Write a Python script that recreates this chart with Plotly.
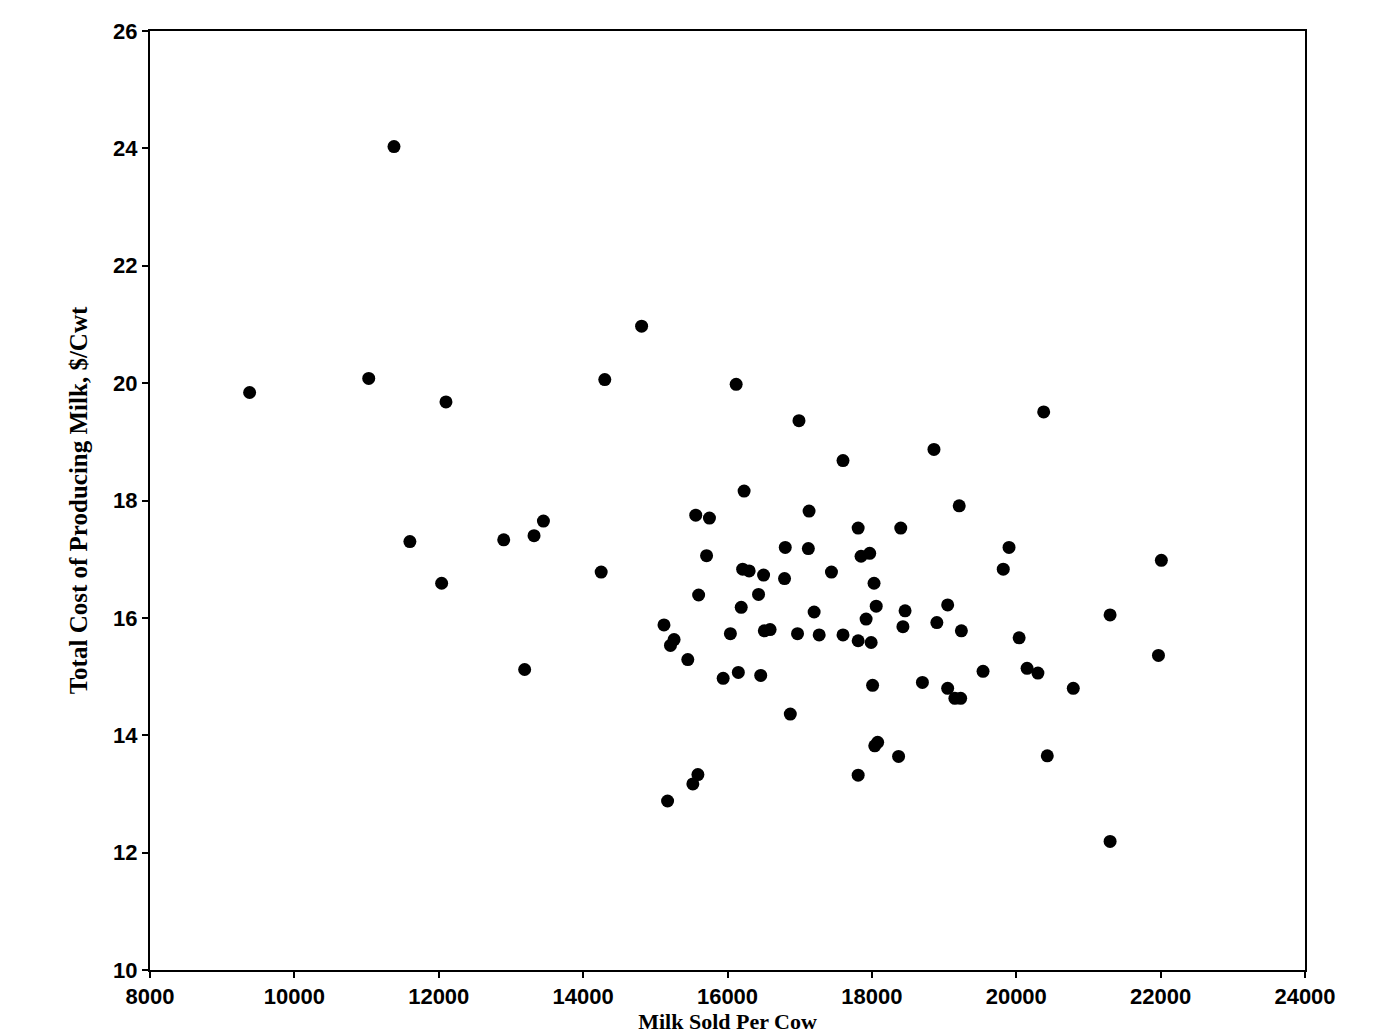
import plotly.graph_objects as go

milk_sold = [9380, 11380, 11030, 12100, 11600, 12040, 12900, 13320, 13450, 13190,
             14810, 14300, 14250, 16120, 16990, 17600, 18860, 20380, 19210, 16230,
             15560, 15750, 17130, 17810, 18400, 15710, 16800, 17120, 17850, 17970,
             19900, 22010, 19820, 16210, 16300, 16500, 16790, 17440, 18030, 15600,
             16430, 16190, 17200, 18060, 18460, 19050, 21300, 15120, 15260, 15210,
             15450, 16040, 16510, 16590, 16970, 17270, 17600, 17810, 17990, 17920,
             18430, 18900, 19240, 20040, 21970, 16150, 16460, 15940, 19540, 20150,
             20300, 18010, 18700, 19050, 19150, 19230, 20790, 16870, 18080, 18040,
             18370, 20430, 15590, 15520, 17810, 15170, 21300]
total_cost = [19.84, 24.03, 20.08, 19.68, 17.30, 16.59, 17.33, 17.40, 17.65, 15.12,
              20.97, 20.06, 16.78, 19.98, 19.36, 18.68, 18.87, 19.51, 17.91, 18.16,
              17.75, 17.70, 17.82, 17.53, 17.53, 17.06, 17.20, 17.18, 17.05, 17.10,
              17.20, 16.98, 16.83, 16.83, 16.80, 16.73, 16.67, 16.78, 16.59, 16.39,
              16.40, 16.18, 16.10, 16.20, 16.12, 16.22, 16.05, 15.88, 15.63, 15.53,
              15.29, 15.73, 15.78, 15.80, 15.73, 15.71, 15.71, 15.61, 15.58, 15.98,
              15.85, 15.92, 15.78, 15.66, 15.36, 15.07, 15.02, 14.97, 15.09, 15.14,
              15.06, 14.85, 14.90, 14.80, 14.63, 14.63, 14.80, 14.36, 13.88, 13.82,
              13.64, 13.65, 13.33, 13.17, 13.32, 12.88, 12.19]

fig = go.Figure(go.Scatter(
    x=milk_sold, y=total_cost, mode='markers',
    marker=dict(size=13, color='black'), showlegend=False,
))

axis_style = dict(showline=True, linecolor='black', linewidth=2, mirror=True,
                  showgrid=False, zeroline=False, ticks='outside', ticklen=6,
                  tickcolor='black', tickwidth=2,
                  tickfont=dict(family='Liberation Sans', size=22, color='black', weight='bold'))

fig.update_xaxes(range=[8000, 24000], dtick=2000, tickformat='d', **axis_style,
                 title=dict(text='<b>Milk Sold Per Cow</b>', standoff=0,
                            font=dict(family='Liberation Serif', size=22, color='black')))
fig.update_yaxes(range=[10, 26], dtick=2, **axis_style,
                 title=dict(text='<b>Total Cost of Producing Milk, $/Cwt</b>', standoff=18,
                            font=dict(family='Liberation Serif', size=25, color='black')))

fig.update_layout(width=1373, height=1034, plot_bgcolor='white', paper_bgcolor='white',
                  margin=dict(l=142, r=76, t=11, b=72))
fig.write_html("out.html")
